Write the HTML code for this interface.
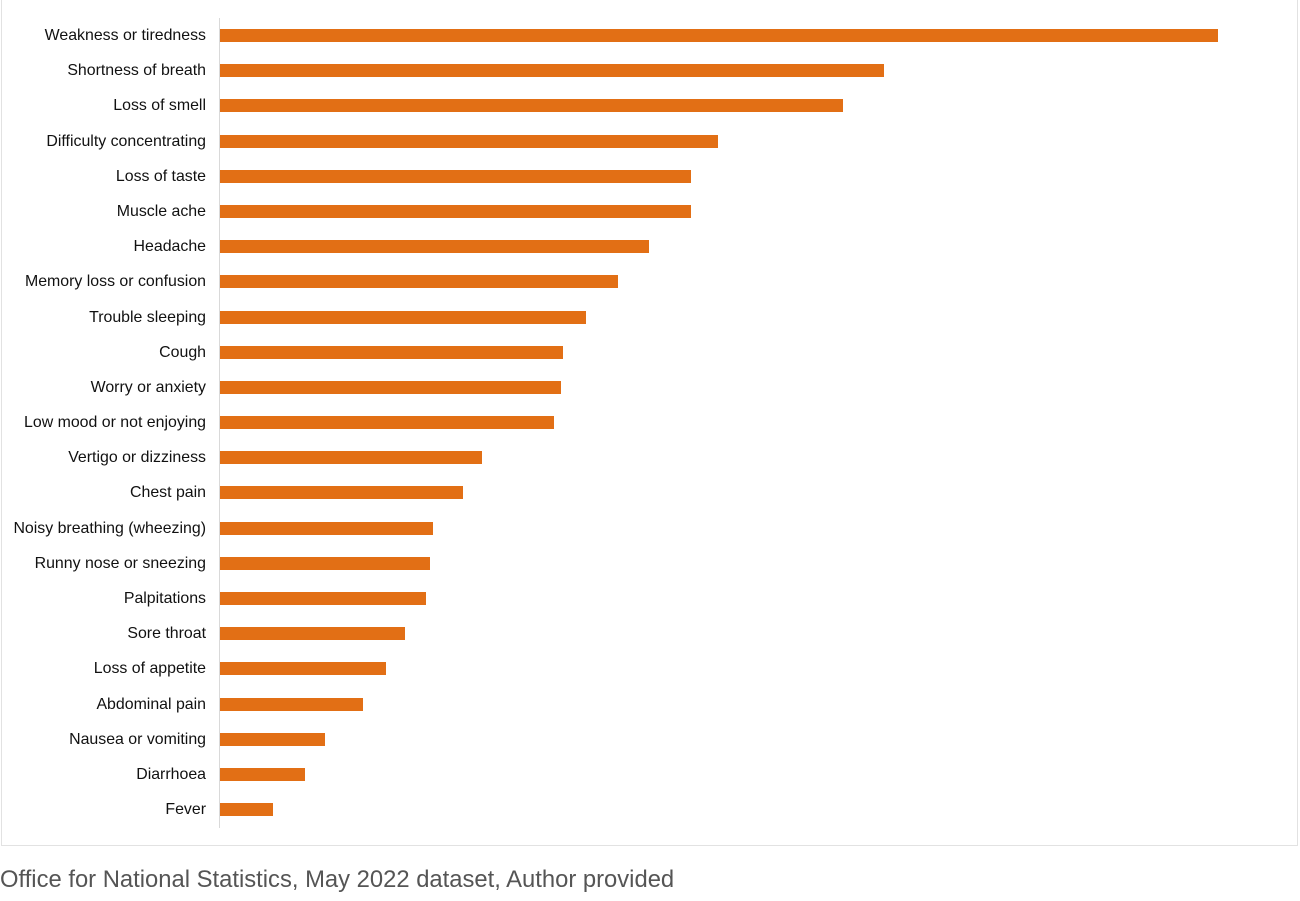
<!DOCTYPE html>
<html><head><style>
body{margin:0;width:1300px;height:901px;background:#fff;position:relative;overflow:hidden;font-family:"Liberation Sans",sans-serif;}
.frame{position:absolute;left:1px;top:-2px;width:1297px;height:848px;border:1px solid #e2e2e2;box-sizing:border-box;}
.axis{position:absolute;left:219px;top:18px;width:1px;height:810px;background:#d9d9d9;}
.lab{position:absolute;right:1094px;font-size:15.9px;color:#111;white-space:nowrap;line-height:16px;}
.bar{position:absolute;left:220px;height:13px;background:#e26f15;}
.cap{position:absolute;left:0;top:866px;font-size:23.8px;color:#555;}
</style></head><body>
<div class="frame"></div>
<div class="axis"></div>
<div id="c"></div>
<div class="cap">Office for National Statistics, May 2022 dataset, Author provided</div>
<script>
var d=[["Weakness or tiredness",1218],["Shortness of breath",884],["Loss of smell",843],["Difficulty concentrating",718],["Loss of taste",691],["Muscle ache",691],["Headache",649],["Memory loss or confusion",618],["Trouble sleeping",586],["Cough",563],["Worry or anxiety",561],["Low mood or not enjoying",554],["Vertigo or dizziness",482],["Chest pain",463],["Noisy breathing (wheezing)",433],["Runny nose or sneezing",430],["Palpitations",426],["Sore throat",405],["Loss of appetite",386],["Abdominal pain",363],["Nausea or vomiting",325],["Diarrhoea",305],["Fever",273]];
var h="";
d.forEach(function(r,i){var c=35.6+i*35.18;
h+='<div class="lab" style="top:'+(c-7.5)+'px">'+r[0]+'</div><div class="bar" style="top:'+(c-6.5)+'px;width:'+(r[1]-220)+'px"></div>';});
document.getElementById("c").innerHTML=h;
</script>
</body></html>
